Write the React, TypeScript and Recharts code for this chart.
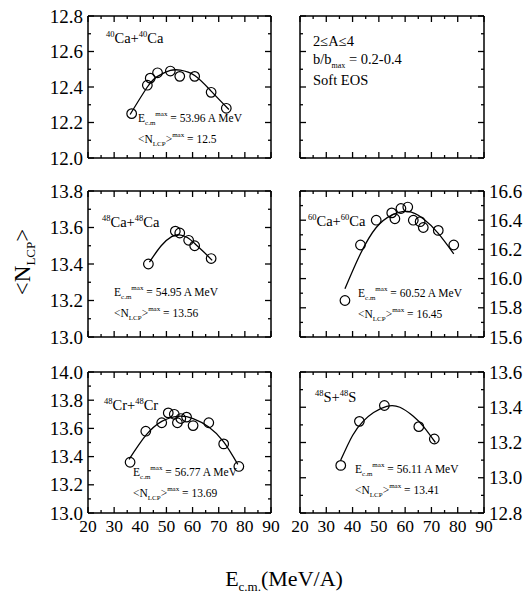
import React from "react";
import { ComposedChart, Line, Scatter, XAxis, YAxis } from "recharts";

const FONT = '"Liberation Serif", "Times New Roman", "DejaVu Serif", serif';

// energy axis, shared by all panels (majors every 10, minors every 5)
const xTicks = [20, 25, 30, 35, 40, 45, 50, 55, 60, 65, 70, 75, 80, 85, 90];

// <N_LCP> tick ladders
const yTicksCa40 = [12.0, 12.1, 12.2, 12.3, 12.4, 12.5, 12.6, 12.7, 12.8];
const yTicksCa48 = [13.0, 13.1, 13.2, 13.3, 13.4, 13.5, 13.6, 13.7, 13.8];
const yTicksCa60 = [15.6, 15.7, 15.8, 15.9, 16.0, 16.1, 16.2, 16.3, 16.4, 16.5, 16.6];
const yTicksCr48 = [13.0, 13.1, 13.2, 13.3, 13.4, 13.5, 13.6, 13.7, 13.8, 13.9, 14.0];
const yTicksS48 = [12.8, 12.9, 13.0, 13.1, 13.2, 13.3, 13.4, 13.5, 13.6];

// 40Ca+40Ca
const ca40X = [36.7, 42.7, 43.8, 46.6, 51.5, 55.1, 60.8, 67.1, 72.9];
const ca40Y = [12.25, 12.41, 12.45, 12.48, 12.49, 12.46, 12.46, 12.37, 12.28];
const ca40FitX = [36.1, 42.7, 46.6, 51.5, 55.3, 60.8, 67.1, 73.9];
const ca40FitY = [12.245, 12.4, 12.46, 12.493, 12.495, 12.465, 12.377, 12.273];

// 48Ca+48Ca
const ca48X = [43.1, 53.4, 55.1, 58.5, 60.8, 67.1];
const ca48Y = [13.4, 13.58, 13.57, 13.53, 13.5, 13.43];
const ca48FitX = [43.5, 48, 52, 55, 58, 61, 64, 67.5];
const ca48FitY = [13.41, 13.5, 13.55, 13.56, 13.545, 13.51, 13.47, 13.42];

// 60Ca+60Ca
const ca60X = [37.1, 43.0, 49.0, 54.9, 56.1, 58.4, 61.0, 63.1, 65.7, 66.9, 72.6, 78.5];
const ca60Y = [15.85, 16.23, 16.4, 16.45, 16.41, 16.48, 16.49, 16.4, 16.39, 16.35, 16.33, 16.23];
const ca60FitX = [37.1, 43, 49, 54.9, 61, 66.9, 72.6, 78.5];
const ca60FitY = [15.93, 16.17, 16.35, 16.435, 16.46, 16.41, 16.31, 16.17];

// 48Cr+48Cr
const cr48X = [36.1, 42.1, 48.2, 50.7, 53.0, 54.2, 55.5, 57.7, 60.2, 66.2, 71.9, 77.7];
const cr48Y = [13.36, 13.58, 13.64, 13.71, 13.7, 13.64, 13.67, 13.68, 13.62, 13.64, 13.49, 13.33];
const cr48FitX = [35.7, 42.1, 48.2, 54.5, 60.2, 66.2, 71.9, 77.3];
const cr48FitY = [13.38, 13.55, 13.65, 13.686, 13.67, 13.61, 13.505, 13.345];

// 48S+48S
const s48X = [35.5, 42.6, 52.1, 65.2, 71.1];
const s48Y = [13.07, 13.32, 13.41, 13.29, 13.22];
const s48FitX = [35.5, 40, 44, 48, 53, 58, 63, 67, 71.5];
const s48FitY = [13.1, 13.24, 13.32, 13.37, 13.405, 13.4, 13.35, 13.29, 13.2];

// fitted maxima printed in each panel
const ecmMax = ["53.96", "54.95", "60.52", "56.77", "56.11"];
const nMax = ["12.5", "13.56", "16.45", "13.69", "13.41"];

const pairs = (xs: number[], ys: number[]) => xs.map((x, i) => ({ x, y: ys[i] }));

const PAD = 50;
const TM = 5;
const AXIS = { stroke: "#000", strokeWidth: 1.5 };

type Side = "bottom" | "top" | "left" | "right";

const makeTick = (side: Side, label: boolean) => (t: any) => {
  const v = Number(t.payload.value);
  const isX = side === "bottom" || side === "top";
  const major = isX ? v % 10 === 0 : Math.round(v * 10) % 2 === 0;
  const len = major ? 6 : 3;
  let x1 = t.x, y1 = t.y, x2 = t.x, y2 = t.y;
  if (side === "bottom") { y1 = t.y - TM; y2 = y1 - len; }
  if (side === "top") { y1 = t.y + TM; y2 = y1 + len; }
  if (side === "left") { x1 = t.x + TM; x2 = x1 + len; }
  if (side === "right") { x1 = t.x - TM; x2 = x1 - len; }
  return (
    <g>
      <line x1={x1} y1={y1} x2={x2} y2={y2} stroke="#000" strokeWidth={1.3} />
      {label && major && (
        <text
          x={t.x}
          y={t.y}
          dy={isX ? "0.8em" : "0.35em"}
          textAnchor={isX ? "middle" : side === "left" ? "end" : "start"}
          style={{ fontFamily: FONT, fontSize: isX ? 17.5 : 19 }}
          fill="#000"
        >
          {isX ? v : v.toFixed(1)}
        </text>
      )}
    </g>
  );
};

type PanelProps = {
  left: number;
  top: number;
  w: number;
  h: number;
  yTicks: number[];
  pts?: { x: number; y: number }[];
  fit?: { x: number; y: number }[];
  showX: boolean;
  ySide: "left" | "right" | "none";
};

function Panel(p: PanelProps) {
  const dom = [p.yTicks[0], p.yTicks[p.yTicks.length - 1]];
  const common = { type: "number" as const, allowDataOverflow: true, interval: 0 as const, tickSize: 0, tickMargin: TM, tickLine: false, axisLine: AXIS };
  const m = PAD - 1;
  return (
    <div style={{ position: "absolute", left: p.left - PAD, top: p.top - PAD }}>
      <ComposedChart width={p.w + 2 * PAD} height={p.h + 2 * PAD} margin={{ top: m, right: m, bottom: m, left: m }}>
        <XAxis xAxisId="b" orientation="bottom" dataKey="x" domain={[20, 90]} ticks={xTicks} height={1} {...common} tick={makeTick("bottom", p.showX)} />
        <XAxis xAxisId="t" orientation="top" dataKey="x" domain={[20, 90]} ticks={xTicks} height={1} {...common} tick={makeTick("top", false)} />
        <YAxis yAxisId="l" orientation="left" domain={dom} ticks={p.yTicks} width={1} {...common} tick={makeTick("left", p.ySide === "left")} />
        <YAxis yAxisId="r" orientation="right" domain={dom} ticks={p.yTicks} width={1} {...common} tick={makeTick("right", p.ySide === "right")} />
        {p.fit && (
          <Line data={p.fit} dataKey="y" xAxisId="b" yAxisId="l" type="natural" dot={false} stroke="#000" strokeWidth={1.3} isAnimationActive={false} />
        )}
        {p.pts && (
          <Scatter
            data={p.pts}
            dataKey="y"
            xAxisId="b"
            yAxisId="l"
            isAnimationActive={false}
            shape={(s: any) => <circle cx={s.cx} cy={s.cy} r={4.8} fill="none" stroke="#000" strokeWidth={1.2} />}
          />
        )}
      </ComposedChart>
    </div>
  );
}

function Reaction({ x, y, a, el }: { x: number; y: number; a: string; el: string }) {
  return (
    <text x={x} y={y} fill="#000" style={{ fontFamily: FONT, fontSize: 14.5 }}>
      <tspan style={{ fontSize: 8.5 }} dy={-6}>{a}</tspan>
      <tspan dy={6}>{el}+</tspan>
      <tspan style={{ fontSize: 8.5 }} dy={-6}>{a}</tspan>
      <tspan dy={6}>{el}</tspan>
    </text>
  );
}

function Maxima({ x, y, e, n }: { x: number; y: number; e: string; n: string }) {
  const small = { fontSize: 7 };
  return (
    <g fill="#000" style={{ fontFamily: FONT, fontSize: 11.5, whiteSpace: "pre" }}>
      <text x={x} y={y}>
        E<tspan style={small} dy={3}>c.m</tspan>
        <tspan style={small} dy={-9}>max</tspan>
        <tspan dy={6}>{` = ${e} A MeV`}</tspan>
      </text>
      <text x={x} y={y + 21}>
        {"<N"}
        <tspan style={small} dy={3}>LCP</tspan>
        <tspan dy={-3}>{">"}</tspan>
        <tspan style={small} dy={-6}>max</tspan>
        <tspan dy={6}>{` = ${n}`}</tspan>
      </text>
    </g>
  );
}

export default function App() {
  return (
    <div style={{ position: "absolute", left: 0, top: 0, width: 529, height: 596, background: "#fff", fontFamily: FONT }}>
      <Panel left={88} top={16} w={183} h={142} yTicks={yTicksCa40} pts={pairs(ca40X, ca40Y)} fit={pairs(ca40FitX, ca40FitY)} showX={false} ySide="left" />
      <Panel left={300} top={16} w={184} h={142} yTicks={yTicksCa40} showX={false} ySide="none" />
      <Panel left={88} top={191} w={183} h={146} yTicks={yTicksCa48} pts={pairs(ca48X, ca48Y)} fit={pairs(ca48FitX, ca48FitY)} showX={false} ySide="left" />
      <Panel left={300} top={191} w={184} h={146} yTicks={yTicksCa60} pts={pairs(ca60X, ca60Y)} fit={pairs(ca60FitX, ca60FitY)} showX={false} ySide="right" />
      <Panel left={88} top={372} w={183} h={141} yTicks={yTicksCr48} pts={pairs(cr48X, cr48Y)} fit={pairs(cr48FitX, cr48FitY)} showX={true} ySide="left" />
      <Panel left={300} top={372} w={184} h={141} yTicks={yTicksS48} pts={pairs(s48X, s48Y)} fit={pairs(s48FitX, s48FitY)} showX={true} ySide="right" />

      <svg width={529} height={596} style={{ position: "absolute", left: 0, top: 0, pointerEvents: "none" }}>
        <Reaction x={106} y={43} a="40" el="Ca" />
        <Maxima x={138} y={122} e={ecmMax[0]} n={nMax[0]} />

        <g fill="#000" style={{ fontFamily: FONT, fontSize: 14.5 }}>
          <text x={313} y={46}>2≤A≤4</text>
          <text x={313} y={64} style={{ whiteSpace: "pre" }}>
            b/b<tspan style={{ fontSize: 8 }} dy={4}>max</tspan>
            <tspan dy={-4}>{" = 0.2-0.4"}</tspan>
          </text>
          <text x={313} y={85}>Soft EOS</text>
        </g>

        <Reaction x={102} y={227} a="48" el="Ca" />
        <Maxima x={114} y={296} e={ecmMax[1]} n={nMax[1]} />

        <Reaction x={308} y={226} a="60" el="Ca" />
        <Maxima x={358} y={297} e={ecmMax[2]} n={nMax[2]} />

        <Reaction x={104} y={410} a="48" el="Cr" />
        <Maxima x={133} y={476} e={ecmMax[3]} n={nMax[3]} />

        <Reaction x={315} y={402} a="48" el="S" />
        <Maxima x={355} y={473} e={ecmMax[4]} n={nMax[4]} />

        <text transform="translate(30,262) rotate(-90)" textAnchor="middle" fill="#000" style={{ fontFamily: FONT, fontSize: 23 }}>
          {"<N"}
          <tspan style={{ fontSize: 13 }} dy={5}>LCP</tspan>
          <tspan dy={-5}>{">"}</tspan>
        </text>

        <text x={284} y={586} textAnchor="middle" fill="#000" style={{ fontFamily: FONT, fontSize: 22 }}>
          E<tspan style={{ fontSize: 13 }} dy={5}>c.m.</tspan>
          <tspan dy={-5}>(MeV/A)</tspan>
        </text>
      </svg>
    </div>
  );
}
